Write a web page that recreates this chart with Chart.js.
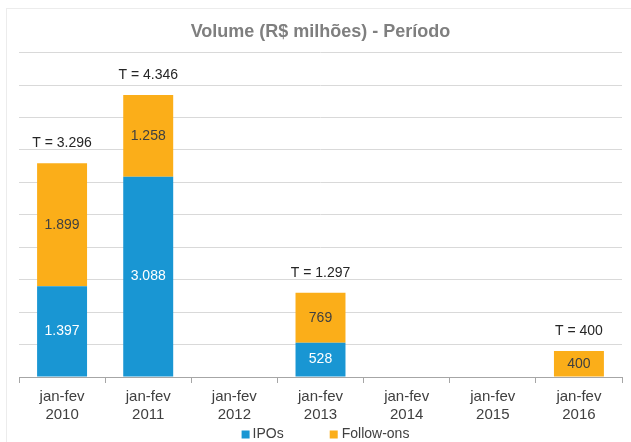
<!DOCTYPE html>
<html>
<head>
<meta charset="utf-8">
<script src="https://cdn.jsdelivr.net/npm/chart.js@4"></script>
<style>
  html, body { margin: 0; padding: 0; background: #fff; }
  #wrap { position: relative; width: 631px; height: 442px; }
  #frame { position: absolute; left: 6px; top: 8px; width: 640px; height: 460px; border: 1px solid #ececec; }
  canvas { position: absolute; left: 0; top: 0; }
</style>
</head>
<body>
<div id="wrap">
  <div id="frame"></div>
  <canvas id="js-volumeChart" width="631" height="442"></canvas>
</div>
<script>
// periodos jan-fev de cada ano
const categorias = [['jan-fev', '2010'], ['jan-fev', '2011'], ['jan-fev', '2012'], ['jan-fev', '2013'], ['jan-fev', '2014'], ['jan-fev', '2015'], ['jan-fev', '2016']];
const ipos = [1397, 3088, 0, 528, 0, 0, 0];
const followOns = [1899, 1258, 0, 769, 0, 0, 400];
const totais = [3296, 4346, 0, 1297, 0, 0, 400];

const fmt = (v) => String(v).replace(/\B(?=(\d{3})+(?!\d))/g, '.');

const rotulosPlugin = {
    id: 'rotulos',
    afterDatasetsDraw(chart) {
        const ctx = chart.ctx;
        ctx.save();
        ctx.font = '14px "Liberation Sans", Arial, sans-serif';
        ctx.textAlign = 'center';
        ctx.textBaseline = 'middle';
        chart.data.datasets.forEach((ds, di) => {
            const meta = chart.getDatasetMeta(di);
            meta.data.forEach((bar, i) => {
                const v = ds.data[i];
                if (!v) return;
                ctx.fillStyle = di === 0 ? '#ffffff' : '#404040';
                ctx.fillText(fmt(v), bar.x, (bar.y + bar.base) / 2);
            });
        });
        const y = chart.scales.y;
        const x = chart.scales.x;
        ctx.fillStyle = '#262626';
        totais.forEach((t, i) => {
            if (!t) return;
            ctx.fillText('T = ' + fmt(t), x.getPixelForValue(i), y.getPixelForValue(t) - 20);
        });
        ctx.restore();
    }
};

// legenda desenhada a mao, o espacamento do original nao cabe na legenda padrao
const legendaPlugin = {
    id: 'legenda',
    afterDraw(chart) {
        const ctx = chart.ctx;
        ctx.save();
        ctx.font = '14px "Liberation Sans", Arial, sans-serif';
        ctx.textBaseline = 'middle';
        ctx.textAlign = 'left';
        const ds = chart.data.datasets;
        const w0 = ctx.measureText(ds[0].label).width;
        const w1 = ctx.measureText(ds[1].label).width;
        const total = 8 + 3 + w0 + 46 + 8 + 4 + w1;
        let xx = (chart.chartArea.left + chart.chartArea.right) / 2 + 5 - total / 2;
        const yy = chart.height - 8;
        ctx.fillStyle = ds[0].backgroundColor;
        ctx.fillRect(xx, yy - 3.5, 8, 8);
        ctx.fillStyle = '#404040';
        ctx.fillText(ds[0].label, xx + 11, yy);
        xx += 11 + w0 + 46;
        ctx.fillStyle = ds[1].backgroundColor;
        ctx.fillRect(xx, yy - 3.5, 8, 8);
        ctx.fillStyle = '#404040';
        ctx.fillText(ds[1].label, xx + 12, yy);
        ctx.restore();
    }
};

Chart.defaults.font.family = '"Liberation Sans", Arial, sans-serif';
Chart.defaults.color = '#404040';

const ctx = document.getElementById('js-volumeChart');
new Chart(ctx, {
    type: 'bar',
    data: {
        labels: categorias,
        datasets: [{
            label: 'IPOs',
            data: ipos,
            backgroundColor: '#1996d3',
            barPercentage: 0.58,
            categoryPercentage: 1
        }, {
            label: 'Follow-ons',
            data: followOns,
            backgroundColor: '#fbae19',
            barPercentage: 0.58,
            categoryPercentage: 1
        }]
    },
    options: {
        responsive: false,
        animation: false,
        layout: { padding: { left: 19, right: 9, top: 11, bottom: 13 } },
        plugins: {
            title: {
                display: true,
                text: 'Volume (R$ milhões) - Período',
                color: '#7f7f7f',
                font: { size: 18, weight: 'bold' },
                padding: { top: 10, bottom: 10 }
            },
            legend: { display: false },
            tooltip: { enabled: false }
        },
        scales: {
            x: {
                stacked: true,
                grid: {
                    offset: true,
                    drawOnChartArea: false,
                    drawTicks: true,
                    tickLength: 6,
                    color: '#a6a6a6'
                },
                border: { color: '#a6a6a6' },
                ticks: { color: '#404040', font: { size: 15 }, padding: 5 }
            },
            y: {
                stacked: true,
                min: 0,
                max: 5000,
                ticks: { display: false, stepSize: 500 },
                grid: { color: '#d9d9d9', drawTicks: false },
                border: { display: false }
            }
        }
    },
    plugins: [rotulosPlugin, legendaPlugin]
});
</script>
</body>
</html>
